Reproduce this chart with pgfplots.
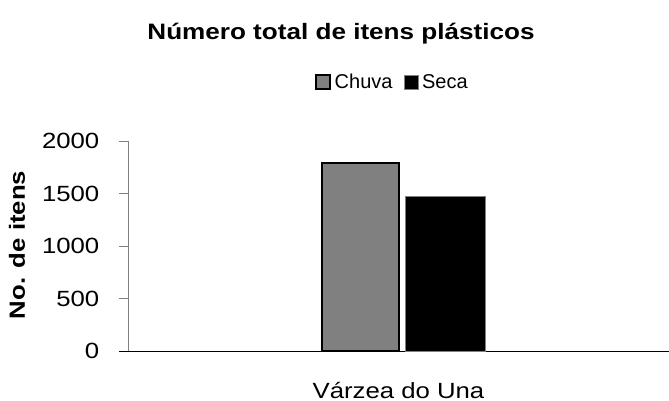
\documentclass[border=0pt]{standalone}
\usepackage{fontspec}
\setmainfont{Liberation Sans}
\newfontfamily\wide[FakeStretch=1.17]{Liberation Sans}
\usepackage{pgfplots}
\pgfplotsset{compat=1.18}
\definecolor{bargray}{RGB}{128,128,128}
\begin{document}
\begin{tikzpicture}
\useasboundingbox (0,0) rectangle (669pt,400pt);
\begin{axis}[
  at={(128pt,49pt)}, anchor=south west,
  scale only axis, width=541pt, height=210pt,
  xmin=0, xmax=541, ymin=0, ymax=2000,
  axis x line*=bottom, axis y line*=left,
  x axis line style={black, line width=1pt, shorten <=-9pt},
  y axis line style={bargray, line width=1pt},
  ytick={0,500,1000,1500,2000},
  xtick={270.5}, xticklabels={Várzea do Una},
  tick align=outside, tick pos=left,
  major tick length=9pt,
  y tick style={bargray, line width=1pt},
  x tick style={draw=none},
  /pgf/number format/assume math mode=true,
  /pgf/number format/1000 sep={},
  tick label style={font=\wide\fontsize{22}{26}\selectfont},
  yticklabel style={inner sep=0pt, xshift=-19.5pt},
  xticklabel style={anchor=base, inner sep=0pt, yshift=-38.7pt},
  ylabel={No. de itens},
  ylabel style={font=\wide\bfseries\fontsize{22}{26}\selectfont, at={(rel axis cs:0,0.505)}, anchor=base, inner sep=0pt, yshift=103pt},
  title={Número total de itens plásticos},
  title style={font=\wide\bfseries\fontsize{22.3}{26}\selectfont, at={(rel axis cs:0.3937,1.457)}, anchor=base, inner sep=0pt},
  legend columns=-1,
  legend style={at={(rel axis cs:0.3457,1.2786)}, anchor=west, draw=none, fill=none, inner sep=0pt,
    font=\fontsize{20}{24}\selectfont,
    nodes={inner sep=0pt},
    /tikz/every odd column/.append style={column sep=3.5pt},
    /tikz/every even column/.append style={column sep=11pt}},
  every axis plot post/.append style={legend image code/.code={\draw[#1] (0pt,-7pt) rectangle (14pt,7pt);}},
  ybar, bar shift=0pt, clip=false,
]
\addplot[fill=bargray, draw=black, line width=2pt, bar width=77.3] coordinates {(232.35,1790)};
\addlegendentry{Chuva}
\addplot[fill=black, draw=bargray, line width=1pt, bar width=79.4] coordinates {(317.5,1470)};
\addlegendentry{Seca}
\end{axis}
\end{tikzpicture}
\end{document}
